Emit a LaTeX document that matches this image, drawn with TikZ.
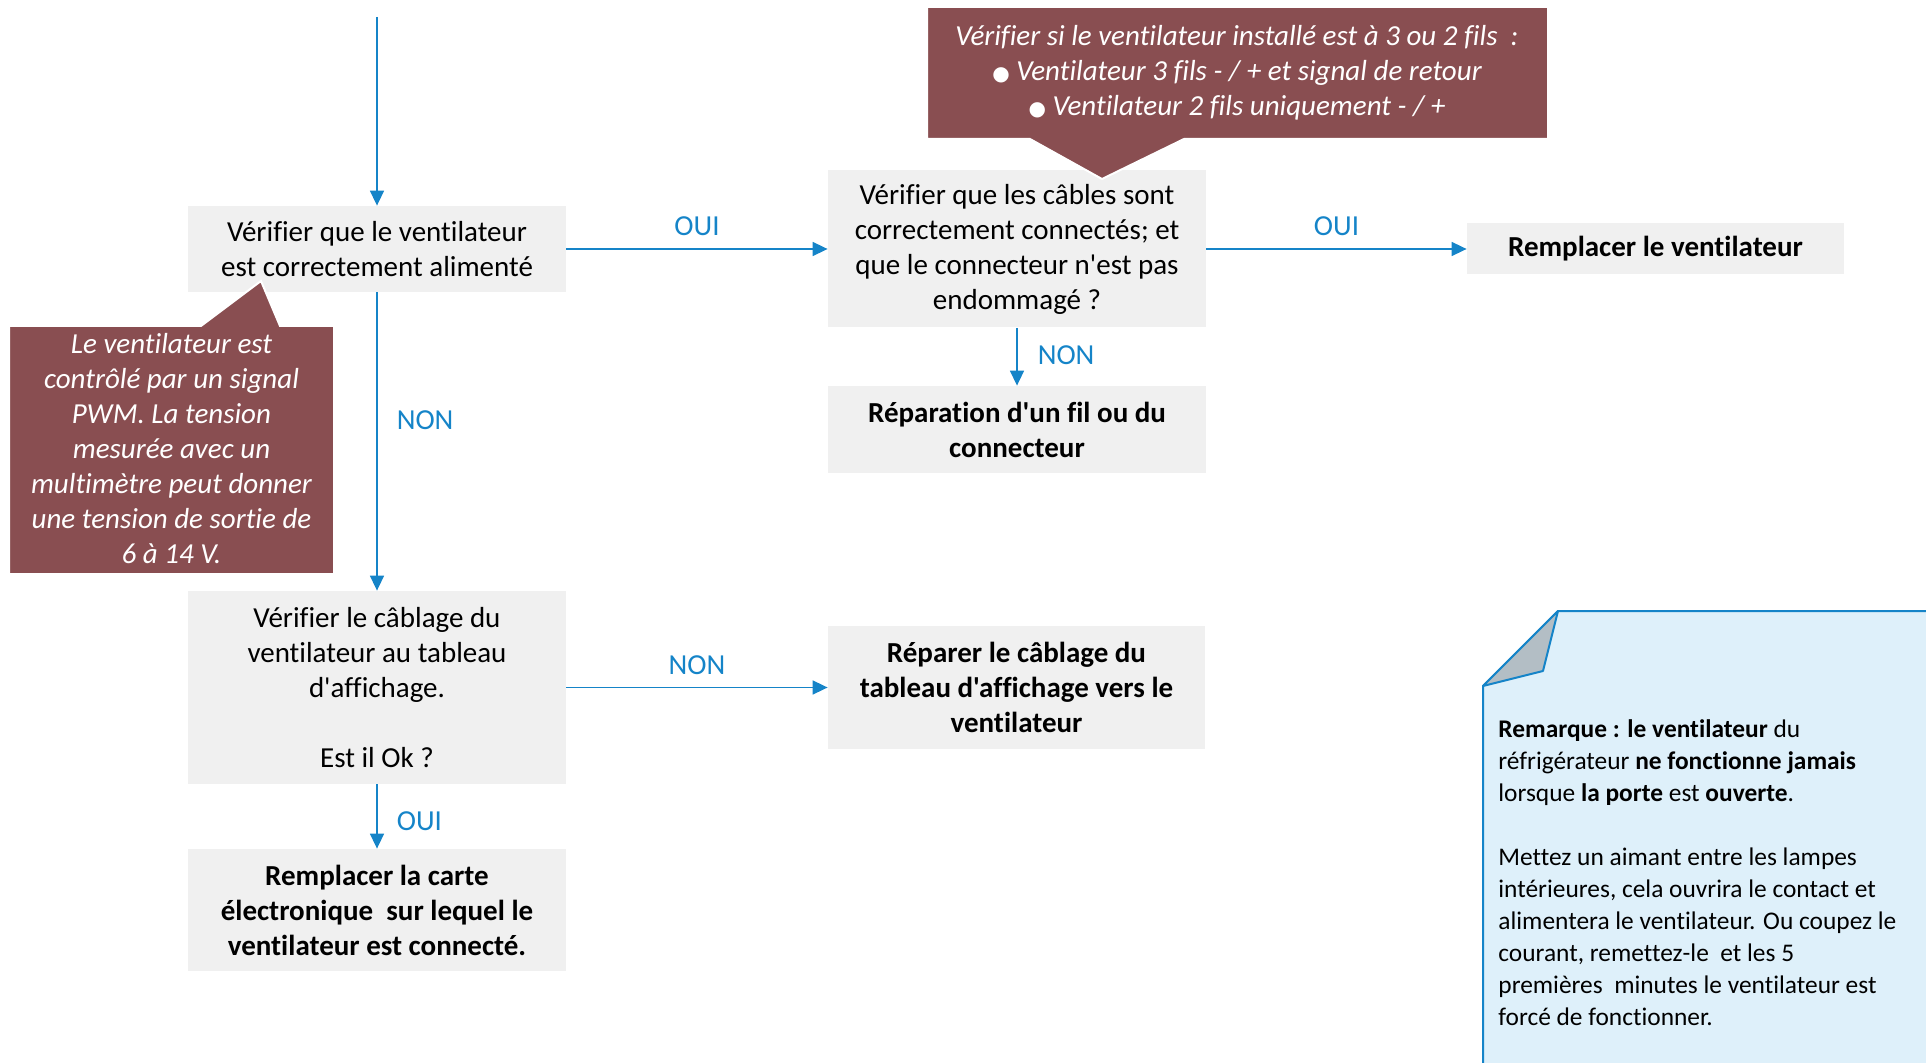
\documentclass[tikz,border=0pt]{standalone}
\usepackage{fontspec}
\setmainfont{Carlito}[Ligatures={TeXOff,NoCommon}]
\newfontfamily\puce{DejaVu Sans}
\usetikzlibrary{arrows.meta}

\definecolor{bordeaux}{HTML}{894E51}
\definecolor{grisbox}{HTML}{F0F0F0}
\definecolor{bleu}{HTML}{1584C8}
\definecolor{bleunote}{HTML}{DEF0FA}
\definecolor{grispli}{HTML}{B3BEC5}

\begin{document}
\begin{tikzpicture}[x=0.5pt,y=-0.5pt,
  boite/.style={fill=grisbox, align=center, inner sep=0pt, font=\fontsize{14.5}{17.5}\selectfont},
  action/.style={boite, font=\fontsize{14.5}{17.5}\selectfont\bfseries},
  bulle/.style={fill=bordeaux, draw=white, line width=1pt},
  texbulle/.style={text=white, align=center, inner sep=0pt, font=\fontsize{14.5}{17.5}\selectfont\itshape},
  fleche/.style={draw=bleu, line width=0.8pt, -{Triangle[length=7.5pt,width=7pt]}},
  lbl/.style={text=bleu, inner sep=0pt, font=\fontsize{14.5}{17.5}\selectfont}]
\useasboundingbox (0,0) rectangle (1926,1063);
\clip (0,0) rectangle (1926,1063);

\coordinate (depart) at (377,17);
\node[boite, minimum width=189pt, minimum height=43pt] (alim) at (377,249)
  {Vérifier que le ventilateur\\est correctement alimenté};
\node[boite, minimum width=189pt, minimum height=78.5pt] (cables) at (1017,249)
  {Vérifier que les câbles sont\\correctement connectés; et\\que le connecteur n'est pas\\endommagé ?};
\node[action, minimum width=188.5pt, minimum height=25.5pt] (rempvent) at (1655.5,249)
  {Remplacer le ventilateur};
\node[action, minimum width=189pt, minimum height=43.5pt] (repfil) at (1017,429.5)
  {Réparation d'un fil ou du\\connecteur};
\node[boite, minimum width=189pt, minimum height=96.5pt] (cablage) at (377,687.5)
  {Vérifier le câblage du\\ventilateur au tableau\\d'affichage.\\[17.5pt]Est il Ok ?};
\node[action, minimum width=188.5pt, minimum height=61.5pt] (repcab) at (1016.5,687.5)
  {Réparer le câblage du\\tableau d'affichage vers le\\ventilateur};
\node[action, minimum width=189pt, minimum height=61pt] (carte) at (377,910)
  {Remplacer la carte\\électronique\ \ sur lequel le\\ventilateur est connecté.};

% bulles
\draw[bulle] (927,7) -- (1548,7) -- (1548,139) -- (1184,139) -- (1102,179) -- (1030,139) -- (927,139) -- cycle;
\node[texbulle] (fils) at (1237,73)
  {Vérifier si le ventilateur installé est à 3 ou 2 fils\ \ :\\
   {\puce\upshape\fontsize{10}{10}\selectfont ●} Ventilateur 3 fils - / + et signal de retour\\
   {\puce\upshape\fontsize{10}{10}\selectfont ●} Ventilateur 2 fils uniquement - / +};
\draw[bulle] (9,326) -- (201,326) -- (261,281) -- (280,326) -- (334,326) -- (334,574) -- (9,574) -- cycle;
\node[texbulle] (pwm) at (171.5,449)
  {Le ventilateur est\\contrôlé par un signal\\PWM. La tension\\mesurée avec un\\multimètre peut donner\\une tension de sortie de\\6 à 14 V.};

% note
\draw[fill=bleunote, draw=bleu, line width=1pt] (1558,611) -- (1960,611) -- (1960,1090) -- (1483,1090) -- (1483,686) -- cycle;
\draw[fill=grispli, draw=bleu, line width=1pt, line join=round] (1558,611) -- (1543,671) -- (1483,686) -- cycle;
\node[anchor=north west, align=left, inner sep=0pt, font=\fontsize{12.7}{16}\selectfont] (remarque) at (1498,719)
  {\textbf{Remarque : le ventilateur} du\\
   réfrigérateur \textbf{ne fonctionne jamais}\\
   lorsque \textbf{la porte} est \textbf{ouverte}.\\[16pt]
   Mettez un aimant entre les lampes\\
   intérieures, cela ouvrira le contact et\\
   alimentera le ventilateur. Ou coupez le\\
   courant, remettez-le\ \ et les 5\\
   premières\ \ minutes le ventilateur est\\
   forcé de fonctionner.};

\draw[fleche] (depart) -- (alim);
\draw[fleche] (alim) -- node[lbl, above=6pt]{OUI} (cables);
\draw[fleche] (cables) -- node[lbl, above=6pt]{OUI} (rempvent);
\draw[fleche] (cables) -- node[lbl, right=10pt, pos=0.48]{NON} (repfil);
\draw[fleche] (alim) -- node[lbl, right=9.5pt, pos=0.43]{NON} (cablage);
\draw[fleche] (cablage) -- node[lbl, above=6pt]{NON} (repcab);
\draw[fleche] (cablage) -- node[lbl, right=9.5pt, pos=0.58]{OUI} (carte);
\end{tikzpicture}
\end{document}
